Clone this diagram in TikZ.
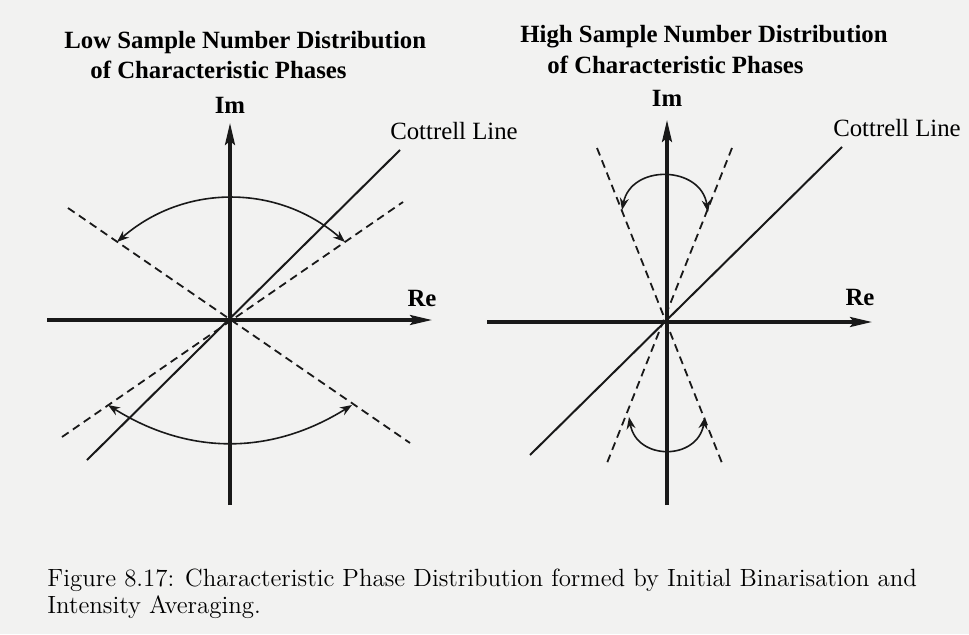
\documentclass[tikz,border=0pt]{standalone}
\usepackage{fontspec}
\newfontfamily\timesfont{Liberation Serif}
\usetikzlibrary{arrows.meta}

\definecolor{paper}{RGB}{242,242,241}
\definecolor{ink}{RGB}{25,25,25}

\tikzset{
  axis/.style={ink, line width=1.6pt, -{Stealth[length=11pt,width=5pt,inset=2pt]}},
  cottrell/.style={ink, line width=1pt},
  phase/.style={ink, line width=0.9pt, dash pattern=on 4pt off 2.6pt},
  spread/.style={ink, line width=0.8pt, {Stealth[length=6pt,width=4.5pt]}-{Stealth[length=6pt,width=4.5pt]}},
  ttl/.style={anchor=west, inner sep=0pt, font=\timesfont\bfseries\fontsize{12.4}{14}\selectfont},
  lbl/.style={inner sep=0pt, font=\timesfont\fontsize{12.4}{14}\selectfont},
  axlbl/.style={inner sep=0pt, font=\timesfont\bfseries\fontsize{12.4}{14}\selectfont},
  captext/.style={anchor=west, inner sep=0pt, font=\fontsize{12.45}{14}\selectfont}
}

\begin{document}
\begin{tikzpicture}[x=0.5pt,y=0.5pt]

%%%%%%%%%%%%%%%%%%%%%%%%%%%%%%%%%%%%%%%%%%%%%%%%%%%%%%
% PAPER
%%%%%%%%%%%%%%%%%%%%%%%%%%%%%%%%%%%%%%%%%%%%%%%%%%%%%%

\fill[paper] (0,0) rectangle (969,634);
\useasboundingbox (0,0) rectangle (969,634);

%%%%%%%%%%%%%%%%%%%%%%%%%%%%%%%%%%%%%%%%%%%%%%%%%%%%%%
% LOW SAMPLE NUMBER
%%%%%%%%%%%%%%%%%%%%%%%%%%%%%%%%%%%%%%%%%%%%%%%%%%%%%%

\node[ttl](lowtitle) at (64,591) {Low Sample Number Distribution};
\node[ttl](lowsub) at (90,564) {of Characteristic Phases};

\coordinate (lowO) at (230,314);

\draw[axis] (47,314) -- (432,314);
\draw[axis] (230,129) -- (230,511);
\node[axlbl](lowim) at (230,529) {Im};
\node[axlbl](lowre) at (422,336) {Re};

\draw[cottrell] (87,174) -- (400,484);
\node[lbl](lowcot) at (454,503) {Cottrell Line};

\draw[phase] (68,426) -- (410,191);
\draw[phase] (62,197) -- (403,432);

\draw[spread] (117,392) to[bend left=41] (345,392);
\draw[spread] (108,229) to[bend right=32] (352,229);

%%%%%%%%%%%%%%%%%%%%%%%%%%%%%%%%%%%%%%%%%%%%%%%%%%%%%%
% HIGH SAMPLE NUMBER
%%%%%%%%%%%%%%%%%%%%%%%%%%%%%%%%%%%%%%%%%%%%%%%%%%%%%%

\node[ttl](hightitle) at (520,597) {High Sample Number Distribution};
\node[ttl](highsub) at (547,569) {of Characteristic Phases};

\coordinate (highO) at (667,312);

\draw[axis] (487,312) -- (872,312);
\draw[axis] (667,129) -- (667,514);
\node[axlbl](highim) at (667,536) {Im};
\node[axlbl](highre) at (860,337) {Re};

\draw[cottrell] (530,179) -- (842,487);
\node[lbl](highcot) at (897,506) {Cottrell Line};

\draw[phase] (597,486) -- (722,171);
\draw[phase] (732,486) -- (607,171);

\draw[spread] (622,424) to[bend left=80, looseness=1.4] (708,422);
\draw[spread] (629,217) to[bend right=80, looseness=1.5] (705,217);

%%%%%%%%%%%%%%%%%%%%%%%%%%%%%%%%%%%%%%%%%%%%%%%%%%%%%%
% CAPTION
%%%%%%%%%%%%%%%%%%%%%%%%%%%%%%%%%%%%%%%%%%%%%%%%%%%%%%

\node[captext](cap1) at (47,54) {Figure 8.17: Characteristic Phase Distribution formed by Initial Binarisation and};
\node[captext](cap2) at (47,27) {Intensity Averaging.};

\end{tikzpicture}
\end{document}
